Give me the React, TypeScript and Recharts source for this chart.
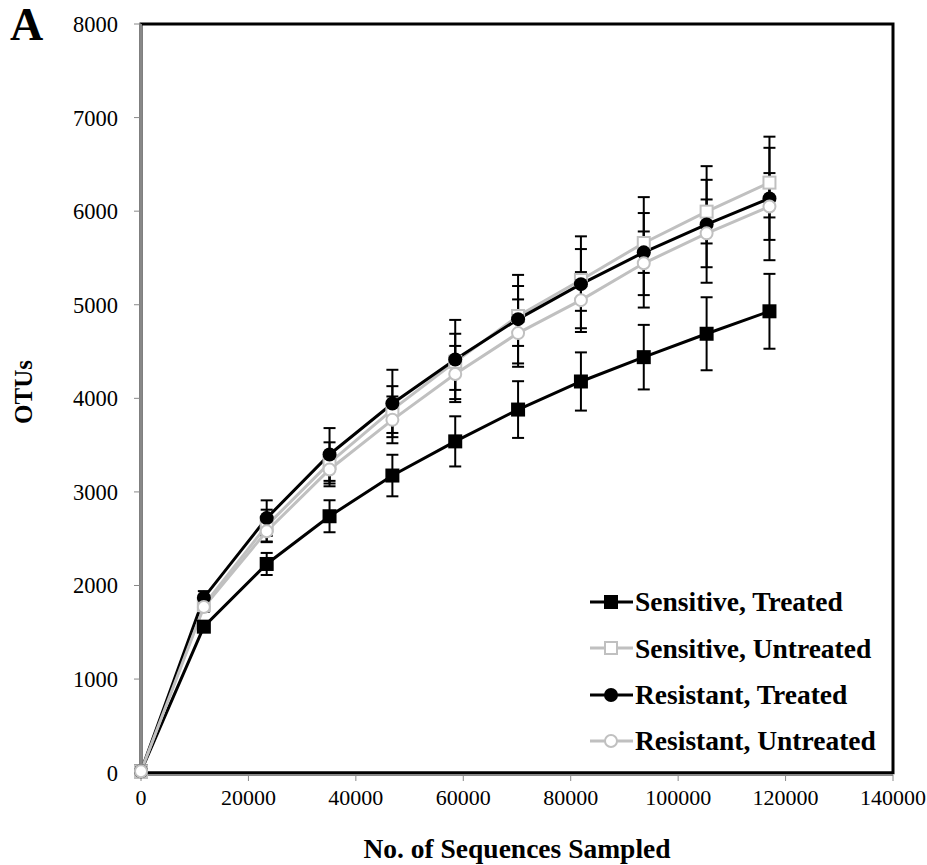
import React from 'react';
import { ComposedChart, Line, XAxis, YAxis, ErrorBar, ReferenceArea } from 'recharts';

// number of sequences sampled (x)
const sampled = [0, 11700, 23400, 35100, 46800, 58500, 70200, 81900, 93600, 105300, 117000];

const sensTreated = [15, 1560, 2230, 2740, 3175, 3540, 3880, 4180, 4440, 4690, 4930];
const sensTreatedErr = [40, 40, 118, 171, 222, 268, 303, 311, 345, 390, 400];

const sensUntreated = [15, 1790, 2640, 3310, 3880, 4390, 4880, 5265, 5660, 5995, 6305];
const sensUntreatedErr = [40, 50, 170, 220, 250, 300, 320, 330, 320, 340, 372];

const resTreated = [15, 1870, 2720, 3400, 3945, 4415, 4846, 5220, 5560, 5858, 6136];
const resTreatedErr = [40, 70, 190, 282, 360, 423, 473, 511, 590, 623, 660];

const resUntreated = [15, 1770, 2580, 3240, 3770, 4260, 4697, 5049, 5443, 5763, 6050];
const resUntreatedErr = [40, 50, 117, 180, 250, 300, 360, 300, 340, 362, 357];

const xTicks = [0, 20000, 40000, 60000, 80000, 100000, 120000, 140000];
const yTicks = [0, 1000, 2000, 3000, 4000, 5000, 6000, 7000, 8000];

const seriesNames = ['Sensitive, Treated', 'Sensitive, Untreated', 'Resistant, Treated', 'Resistant, Untreated'];

const data = sampled.map((x, i) => ({
  x,
  st: sensTreated[i], stErr: sensTreatedErr[i],
  su: sensUntreated[i], suErr: sensUntreatedErr[i],
  rt: resTreated[i], rtErr: resTreatedErr[i],
  ru: resUntreated[i], ruErr: resUntreatedErr[i],
}));

const FONT = '"Liberation Serif", "Times New Roman", serif';
const GRAY = '#c0c0c0';

type Style = { key: string; err: string; color: string; shape: 'square' | 'circle'; filled: boolean };

const styles: Style[] = [
  { key: 'st', err: 'stErr', color: '#000', shape: 'square', filled: true },
  { key: 'su', err: 'suErr', color: GRAY, shape: 'square', filled: false },
  { key: 'rt', err: 'rtErr', color: '#000', shape: 'circle', filled: true },
  { key: 'ru', err: 'ruErr', color: GRAY, shape: 'circle', filled: false },
];

const Marker = ({ cx, cy, s }: { cx: number; cy: number; s: Style }) => {
  const fill = s.filled ? s.color : '#fff';
  if (s.shape === 'square') {
    return s.filled
      ? <rect x={cx - 7} y={cy - 7} width={14} height={14} fill={fill} />
      : <rect x={cx - 6} y={cy - 6} width={12} height={12} fill={fill} stroke={s.color} strokeWidth={2} />;
  }
  return s.filled
    ? <circle cx={cx} cy={cy} r={7} fill={fill} />
    : <circle cx={cx} cy={cy} r={6} fill={fill} stroke={s.color} strokeWidth={2} />;
};

// legend drawn over the plot, lower right
const LegendBox = () => (
  <div style={{ position: 'absolute', left: 588, top: 579, fontFamily: FONT, fontWeight: 'bold', fontSize: 27.5 }}>
    {styles.map((s, i) => (
      <div key={s.key} style={{ display: 'flex', alignItems: 'center', height: 46.3 }}>
        <svg width={47} height={20} style={{ display: 'block' }}>
          <line x1={2} y1={10} x2={45} y2={10} stroke={s.color} strokeWidth={3} />
          <Marker cx={23} cy={10} s={s} />
        </svg>
        <span style={{ color: '#000', lineHeight: 1, whiteSpace: 'nowrap' }}>{seriesNames[i]}</span>
      </div>
    ))}
  </div>
);

export default function App() {
  return (
    <div style={{ position: 'absolute', left: 0, top: 0, width: 927, height: 865, background: '#fff' }}>
      <ComposedChart width={927} height={865} data={data} margin={{ top: 24, right: 34, left: 0, bottom: 0 }}>
        <ReferenceArea x1={0} x2={140000} y1={0} y2={8000} fill="none" stroke="#000" strokeWidth={3} />
        <XAxis
          dataKey="x"
          type="number"
          domain={[0, 140000]}
          ticks={xTicks}
          height={90}
          tickSize={6}
          tickMargin={8}
          axisLine={{ stroke: '#888', strokeWidth: 2 }}
          tickLine={{ stroke: '#888' }}
          tick={{ fill: '#000', fontSize: 22, fontFamily: FONT }}
          label={{ value: 'No. of Sequences Sampled', position: 'insideBottom', offset: 7, fill: '#000', fontSize: 27.5, fontWeight: 'bold', fontFamily: FONT }}
        />
        <YAxis
          type="number"
          domain={[0, 8000]}
          ticks={yTicks}
          width={141}
          tickSize={7}
          tickMargin={16}
          axisLine={{ stroke: '#888', strokeWidth: 2 }}
          tickLine={{ stroke: '#888' }}
          tick={{ fill: '#000', fontSize: 22.5, fontFamily: FONT }}
        />
        {styles.map((s, i) => (
          <Line
            key={s.key}
            dataKey={s.key}
            name={seriesNames[i]}
            stroke={s.color}
            strokeWidth={3}
            isAnimationActive={false}
            dot={(p: any) => <Marker key={`${s.key}-${p.index}`} cx={p.cx} cy={p.cy} s={s} />}
            activeDot={false}
          >
            <ErrorBar dataKey={s.err} direction="y" width={6} stroke="#000" strokeWidth={2} />
          </Line>
        ))}
      </ComposedChart>
      <LegendBox />
      <div style={{ position: 'absolute', left: 10, top: 2, fontFamily: FONT, fontWeight: 'bold', fontSize: 46, lineHeight: '46px' }}>A</div>
      <div
        style={{
          position: 'absolute', left: 24, top: 392, fontFamily: FONT, fontWeight: 'bold', fontSize: 25,
          transform: 'translate(-50%, -50%) rotate(-90deg)', whiteSpace: 'nowrap',
        }}
      >
        OTUs
      </div>
    </div>
  );
}
